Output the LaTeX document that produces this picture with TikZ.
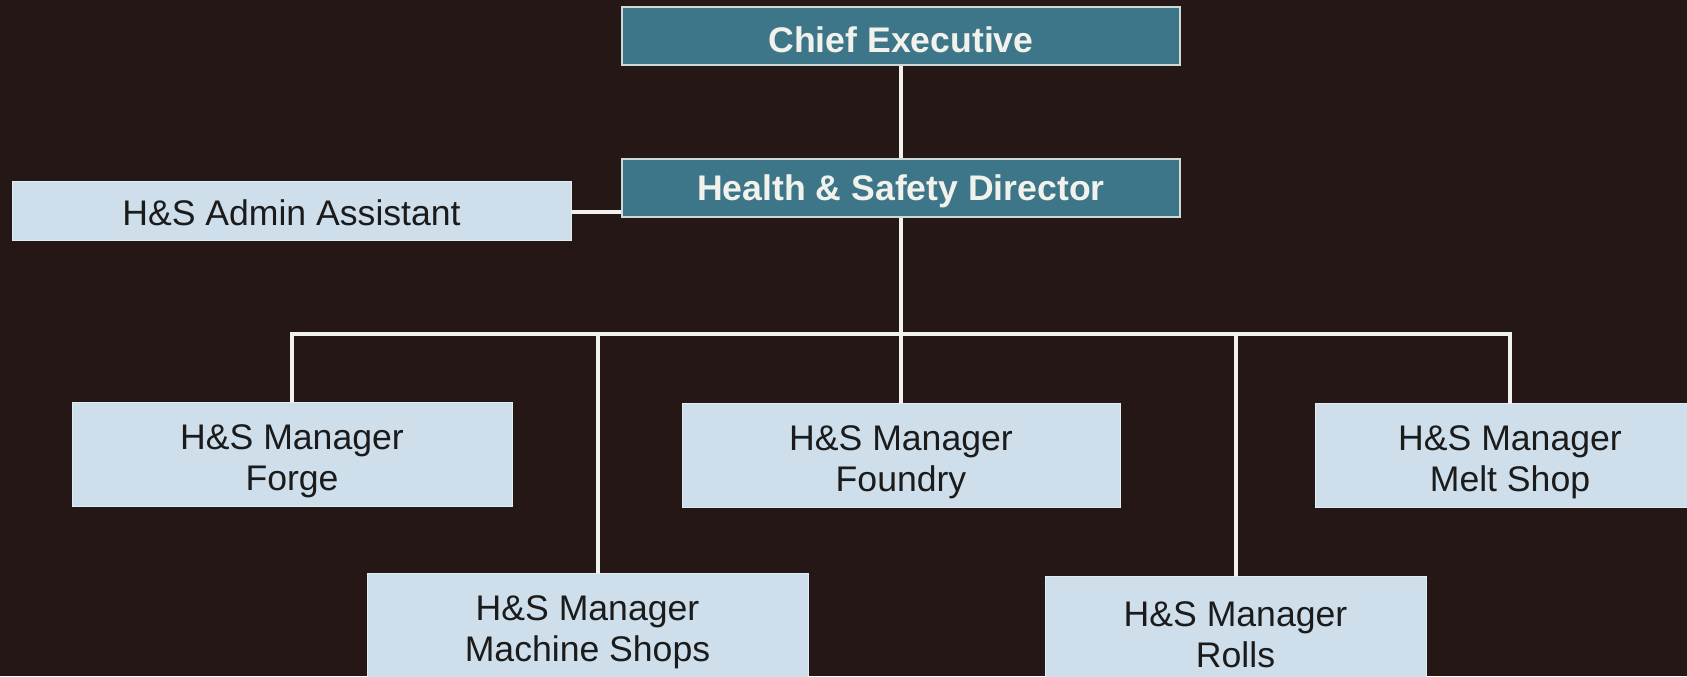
\documentclass[tikz,border=0pt]{standalone}
\usepackage{fontspec}
\setsansfont{Liberation Sans}
\definecolor{bgdark}{HTML}{241715}
\definecolor{tealhead}{HTML}{3D7589}
\definecolor{paleblue}{HTML}{CEDFEB}
\definecolor{linewhite}{HTML}{F2F2EC}
\definecolor{inkdark}{HTML}{1B1B1B}
\newcommand{\mgrline}{\rule{0pt}{19.4pt}H\&S Manager}
\tikzset{
  headbox/.style={fill=tealhead, draw=linewhite!80!tealhead, line width=0.8pt,
                  font=\fontsize{17.8}{20}\selectfont\sffamily\bfseries, text=linewhite,
                  minimum width=279pt, minimum height=29pt, inner sep=0pt,
                  execute at begin node={\rule{0pt}{16.2pt}}},
  staffbox/.style={fill=paleblue, draw=paleblue!60!white, line width=0.5pt,
                   font=\fontsize{17.8}{20.5}\selectfont\sffamily, text=inkdark,
                   align=center, inner sep=0pt, minimum height=52pt},
  link/.style={draw=linewhite, line width=2pt, line join=miter},
}
\begin{document}
\begin{tikzpicture}[x=0.5pt, y=-0.5pt]
  \useasboundingbox (0,0) rectangle (1687,676);
  \fill[bgdark] (0,0) rectangle (1687,676);
  % top of the chart
  \node[headbox] (ceo) at (901,36) {Chief Executive};
  \node[headbox] (hsd) at (901,188) {Health \& Safety Director};
  \node[staffbox, minimum width=279.5pt, minimum height=29.5pt,
        execute at begin node={\rule{0pt}{15pt}}] (admin) at (291.5,210.5) {H\&S Admin Assistant};
  % site managers
  \node[staffbox, minimum width=220pt] (forge) at (292,454) {\mgrline\\Forge};
  \node[staffbox, minimum width=219pt] (foundry) at (901,455) {\mgrline\\Foundry};
  \node[staffbox, minimum width=195pt] (melt) at (1510,455) {\mgrline\\Melt Shop};
  \node[staffbox, minimum width=220.5pt] (machine) at (587.5,625) {\mgrline\\Machine Shops};
  \node[staffbox, minimum width=190.5pt] (rolls) at (1235.5,628) {\mgrline\\Rolls};
  \coordinate (bus) at (901,333.5);
  \coordinate (mtop) at ([xshift=5pt]machine.north);
  % connectors
  \draw[link] (ceo) -- (hsd);
  \draw[link] (admin.east |- 0,212) -- (hsd.west |- 0,212);
  \draw[link] (hsd.south) -- (bus);
  \draw[link] (forge.north) |- (melt.north |- bus) -- (melt.north);
  \foreach \n in {foundry, rolls} \draw[link] (\n.north |- bus) -- (\n.north);
  \draw[link] (mtop |- bus) -- (mtop);
\end{tikzpicture}
\end{document}
